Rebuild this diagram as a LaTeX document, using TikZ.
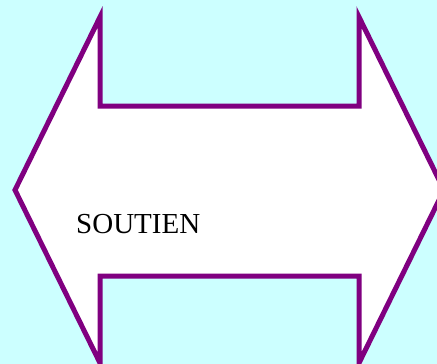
\documentclass[tikz,border=0pt]{standalone}
\usepackage{fontspec}
\setmainfont{Liberation Serif}
\usepackage{xcolor}
\definecolor{bgcyan}{RGB}{204,255,255}
\definecolor{arrpurple}{RGB}{128,0,128}

\begin{document}
\begin{tikzpicture}[x=1pt,y=-1pt]
\tikzset{
  bg/.style={fill=bgcyan,draw=none},
  dar/.style={fill=white,draw=arrpurple,line width=5pt,line join=miter},
  lb/.style={font=\fontsize{29}{33}\selectfont,text=black,inner sep=0pt,anchor=base west}
}
\useasboundingbox (0,0) rectangle (437,364);
\clip (0,0) rectangle (437,364);
\fill[bg] (0,0) rectangle (437,364);
\draw[dar] (15,190) -- (100,17) -- (100,106) -- (359,106) -- (359,17) -- (444,190)
  -- (359,363) -- (359,276) -- (100,276) -- (100,363) -- cycle;
\node[lb] (soutien) at (76,233) {SOUTIEN};
\end{tikzpicture}
\end{document}
